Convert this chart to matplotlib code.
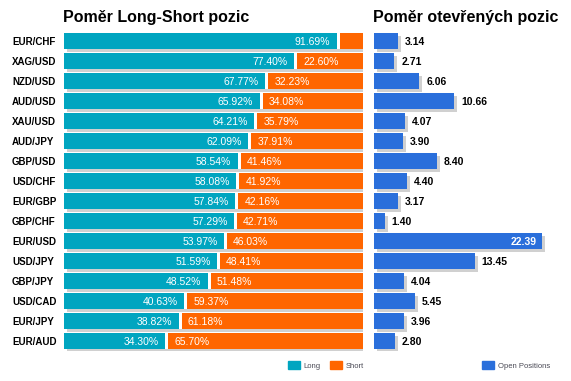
import matplotlib
matplotlib.use("Agg")
import matplotlib.pyplot as plt
import matplotlib.transforms as mtransforms
from matplotlib.patches import Patch

plt.rcParams['font.family'] = ['Liberation Sans', 'DejaVu Sans']

# data
pairs = ["EUR/CHF", "XAG/USD", "NZD/USD", "AUD/USD", "XAU/USD", "AUD/JPY",
         "GBP/USD", "USD/CHF", "EUR/GBP", "GBP/CHF", "EUR/USD", "USD/JPY",
         "GBP/JPY", "USD/CAD", "EUR/JPY", "EUR/AUD"]
long_pct = [91.69, 77.40, 67.77, 65.92, 64.21, 62.09, 58.54, 58.08,
            57.84, 57.29, 53.97, 51.59, 48.52, 40.63, 38.82, 34.30]
short_pct = [8.31, 22.60, 32.23, 34.08, 35.79, 37.91, 41.46, 41.92,
             42.16, 42.71, 46.03, 48.41, 51.48, 59.37, 61.18, 65.70]
open_pos = [3.14, 2.71, 6.06, 10.66, 4.07, 3.90, 8.40, 4.40,
            3.17, 1.40, 22.39, 13.45, 4.04, 5.45, 3.96, 2.80]

C_LONG = "#00A5C0"
C_SHORT = "#FF6600"
C_OPEN = "#2A6FDB"
C_SHADOW = "#D0D0D0"

W, H = 571, 381
fig = plt.figure(figsize=(W / 100, H / 100), dpi=100)

def px_axes(x0, x1, top, bottom):
    return fig.add_axes([x0 / W, (H - bottom) / H, (x1 - x0) / W, (bottom - top) / H])

ax1 = px_axes(64, 363, 31, 351)
ax2 = px_axes(374, 571, 31, 351)

ypos = list(range(len(pairs)))
shadow = mtransforms.ScaledTranslation(3 / 100, -3 / 100, fig.dpi_scale_trans)
bh = 0.8

# --- left: long/short ratio
ax1.barh(ypos, [100] * len(ypos), height=bh, color=C_SHADOW,
         transform=ax1.transData + shadow, zorder=1)
ax1.barh(ypos, long_pct, height=bh, color=C_LONG, zorder=2)
ax1.barh(ypos, short_pct, left=long_pct, height=bh, color=C_SHORT, zorder=2)
ax1.barh(ypos, [1.0] * len(ypos), left=[l - 0.5 for l in long_pct], height=bh,
         color="white", zorder=3)
for i, (lv, sv) in enumerate(zip(long_pct, short_pct)):
    ax1.annotate("%.2f%%" % lv, (lv - 0.5, i), xytext=(-4.5, 0), textcoords="offset points",
                 ha="right", va="center_baseline", color="white", fontsize=7.5, zorder=4)
    if sv >= 10:
        ax1.annotate("%.2f%%" % sv, (lv + 0.5, i), xytext=(4.5, 0), textcoords="offset points",
                     ha="left", va="center_baseline", color="white", fontsize=7.5, zorder=4)
ax1.set_xlim(0, 100)
ax1.set_ylim(len(pairs) - 0.5, -0.5)
ax1.set_yticks(ypos)
ax1.set_yticklabels(pairs, fontsize=7, fontweight="bold", ha="left", va="center_baseline")
ax1.tick_params(axis="y", length=0, pad=52 * 0.72)
ax1.set_xticks([])
for s in ax1.spines.values():
    s.set_visible(False)

# --- right: open positions
scale = 7.5  # px per unit
ax2.barh(ypos, open_pos, height=bh, color=C_SHADOW,
         transform=ax2.transData + shadow, zorder=1)
ax2.barh(ypos, open_pos, height=bh, color=C_OPEN, zorder=2)
for i, v in enumerate(open_pos):
    if v > 20:
        ax2.annotate("%.2f" % v, (v, i), xytext=(-3.5, 0), textcoords="offset points",
                     ha="right", va="center_baseline", color="white", fontsize=7.5,
                     fontweight="bold", zorder=4)
    else:
        ax2.annotate("%.2f" % v, (v, i), xytext=(5, 0), textcoords="offset points",
                     ha="left", va="center_baseline", color="black", fontsize=7.5,
                     fontweight="bold", zorder=4)
ax2.set_xlim(0, (571 - 374) / scale)
ax2.set_ylim(len(pairs) - 0.5, -0.5)
ax2.set_xticks([])
ax2.set_yticks([])
for s in ax2.spines.values():
    s.set_visible(False)

# titles
fig.text(63 / W, (H - 22) / H, "Poměr Long-Short pozic", fontsize=11.5,
         fontweight="bold", va="baseline", ha="left")
fig.text(373 / W, (H - 22) / H, "Poměr otevřených pozic", fontsize=11.5,
         fontweight="bold", va="baseline", ha="left")

# legends
leg_kw = dict(frameon=False, fontsize=5.5, handlelength=1.55, handleheight=1.3,
              handletextpad=0.55, columnspacing=1.2, borderpad=0, borderaxespad=0,
              labelcolor="#4a4a55")
fig.legend(handles=[Patch(color=C_LONG, label="Long"), Patch(color=C_SHORT, label="Short")],
           loc="center", bbox_to_anchor=(326 / W, 15.5 / H), ncol=2, **leg_kw)
fig.legend(handles=[Patch(color=C_OPEN, label="Open Positions")],
           loc="center", bbox_to_anchor=(516 / W, 15.5 / H), ncol=1, **leg_kw)

fig.savefig("out.png", dpi=100)
